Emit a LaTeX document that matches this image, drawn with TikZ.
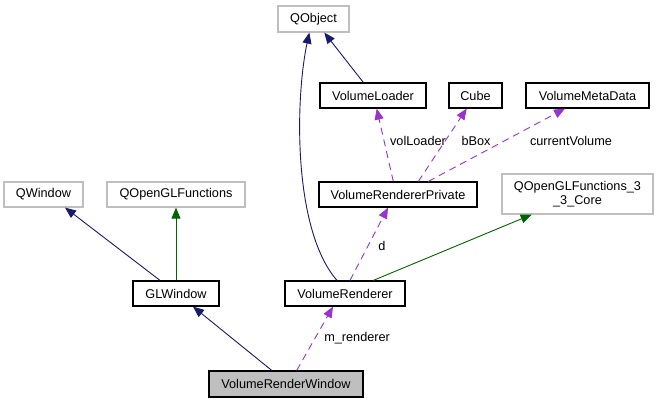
\documentclass[tikz,border=0pt]{standalone}
\usepackage{fontspec}
\setmainfont{Liberation Sans}
\usetikzlibrary{arrows.meta}
\definecolor{navyc}{HTML}{191970}
\definecolor{greenc}{HTML}{006400}
\definecolor{purplec}{HTML}{9A32CD}
\definecolor{grayb}{HTML}{BFBFBF}
\begin{document}
\begin{tikzpicture}[x=1pt,y=-1pt,
  font=\fontsize{12.7}{14.5}\selectfont,
  cls/.style={draw=black,line width=1.2pt,fill=white,inner sep=0pt,minimum height=25pt,align=center},
  ext/.style={draw=grayb,line width=1.2pt,fill=white,inner sep=0pt,minimum height=25pt,align=center},
  inh/.style={draw=navyc,line width=0.9pt,-{Triangle[length=11pt,width=9pt]}},
  pinh/.style={draw=greenc,line width=0.9pt,-{Triangle[length=11pt,width=9pt]}},
  use/.style={draw=purplec,line width=0.9pt,dash pattern=on 7pt off 5pt,-{Triangle[length=11pt,width=9pt]}},
  lbl/.style={inner sep=1pt}]
\useasboundingbox (0,0) rectangle (657,403);
\fill[white] (0,0) rectangle (657,403);
% nodes
\node[ext,minimum width=71pt,minimum height=26pt] (qobject) at (313.5,19) {QObject};
\node[cls,minimum width=106pt] (vloader) at (373,95.5) {VolumeLoader};
\node[cls,minimum width=53pt] (cube) at (475.5,95.5) {Cube};
\node[cls,minimum width=123pt] (vmeta) at (587.5,95.5) {VolumeMetaData};
\node[cls,minimum width=158pt] (vrp) at (398,194.5) {VolumeRendererPrivate};
\node[ext,minimum width=151pt,minimum height=40pt] (qgl33) at (577.5,194) {QOpenGLFunctions\_3\\\_3\_Core};
\node[ext,minimum width=79pt] (qwindow) at (43.5,194.5) {QWindow};
\node[ext,minimum width=138pt] (qgl) at (176,194.5) {QOpenGLFunctions};
\node[cls,minimum width=86pt] (glw) at (176,293.5) {GLWindow};
\node[cls,minimum width=120pt] (vr) at (345,293.5) {VolumeRenderer};
\node[cls,minimum width=154pt,minimum height=26pt,fill=grayb] (vrw) at (286,384) {VolumeRenderWindow};
% edges
\draw[inh] ([xshift=-16pt]glw.north) -- ([xshift=21.5pt]qwindow.south);
\draw[pinh] (glw.north) -- (qgl.south);
\draw[inh] ([xshift=-14.3pt]vrw.north) -- ([xshift=17pt]glw.south);
\draw[use] ([xshift=10.7pt]vrw.north) -- node[lbl,right,pos=0.5,xshift=8pt] {m\_renderer} ([xshift=-12pt]vr.south);
\draw[use] ([xshift=5pt]vr.north) -- ([xshift=-10pt]vrp.south);
\node[lbl] (dlbl) at (382,246) {d};
\draw[inh] ([xshift=-8pt]vr.north) .. controls (293,230) and (295,100) .. ([xshift=-4.2pt]qobject.south);
\draw[pinh] ([xshift=28.3pt]vr.north) -- ([xshift=-45.8pt]qgl33.south);
\draw[inh] ([xshift=-9.7pt]vloader.north) -- ([xshift=10.8pt]qobject.south);
\draw[use] ([xshift=-4.7pt]vrp.north) -- ([xshift=3.7pt]vloader.south);
\draw[use] ([xshift=20.3pt]vrp.north) -- ([xshift=-8.8pt]cube.south);
\draw[use] ([xshift=30.3pt]vrp.north) -- ([xshift=-22.5pt]vmeta.south);
\node[lbl] (l1) at (418,141) {volLoader};
\node[lbl] (l2) at (476,141) {bBox};
\node[lbl] (l3) at (571,141) {currentVolume};
\end{tikzpicture}
\end{document}
